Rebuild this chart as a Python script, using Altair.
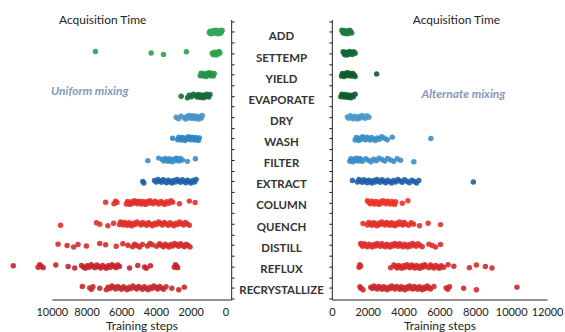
import altair as alt
import pandas as pd

CATS = ["ADD", "SETTEMP", "YIELD", "EVAPORATE", "DRY", "WASH", "FILTER",
        "EXTRACT", "COLUMN", "QUENCH", "DISTILL", "REFLUX", "RECRYSTALLIZE"]

# Uniform mixing (left panel) acquisition steps
U_ADD = [190, 235, 262, 298, 334, 357, 392, 418, 455, 478, 512, 546, 571, 603, 641, 676, 722, 758, 805, 847, 893, 930]
U_SETTEMP = [7490, 4280, 3570, 2250, 760, 705, 640, 590, 530, 470, 425, 370, 320]
U_YIELD = [1450, 1395, 1330, 1275, 1220, 1165, 1110, 1065, 1010, 960, 915, 860, 810, 760, 700, 645]
U_EVAPORATE = [2550, 2190, 2085, 1960, 1850, 1690, 1635, 1570, 1515, 1450, 1395, 1330, 1270, 1215, 1150, 1095, 1030, 960, 890]
U_DRY = [2840, 2700, 2560, 2360, 2295, 2220, 2150, 2085, 2010, 1945, 1870, 1805, 1730, 1665, 1590, 1525, 1450, 1390, 1330]
U_WASH = [3040, 2750, 2685, 2610, 2545, 2470, 2405, 2330, 2265, 2190, 2125, 2050, 1985, 1910, 1845, 1770, 1705, 1630, 1565, 1500]
U_FILTER = [4470, 3840, 3630, 3555, 3470, 3395, 3310, 3235, 3150, 3075, 2990, 2915, 2830, 2755, 2670, 2595, 2480, 2190, 1730]
U_EXTRACT = [4760, 4700, 4090, 3990, 3885, 3790, 3690, 3585, 3480, 3390, 3290, 3185, 3090, 2990, 2885, 2790, 2690, 2585, 2490, 2390, 2285, 2190, 2090, 1985, 1880, 1775, 1690]
U_COLUMN = [6900, 6420, 6330, 6250, 5710, 5640, 5555, 5480, 5390, 5315, 5230, 5150, 5070, 4990, 4915, 4830, 4760, 4680, 4600, 4525, 4440, 4360, 4285, 4170, 4060, 3950, 3845, 3720, 3610, 3500, 3385, 3260, 3140, 3040, 2650, 2080, 1750]
U_QUENCH = [9500, 7430, 7240, 6770, 6440, 6100, 6040, 5960, 5885, 5800, 5720, 5645, 5560, 5480, 5400, 5300, 5200, 5100, 4980, 4870, 4760, 4650, 4540, 4430, 4320, 4200, 4080, 3960, 3850, 3740, 3630, 3520, 3410, 3300, 3190, 3080, 2970, 2860, 2750, 2640, 2530, 2420, 2310, 2200, 2080]
U_DISTILL = [9640, 9120, 8740, 8490, 8010, 7240, 6900, 6290, 5910, 5620, 5350, 5230, 5100, 4950, 4780, 4490, 4350, 4210, 3970, 3800, 3690, 3580, 3470, 3360, 3250, 3140, 3030, 2920, 2810, 2700, 2590, 2480, 2370, 2260, 2150, 2040]
U_REFLUX = [12220, 10790, 10700, 10600, 10500, 9770, 9060, 8680, 8290, 8180, 8070, 7960, 7850, 7740, 7630, 7520, 7410, 7300, 7190, 7080, 6970, 6860, 6750, 6640, 6530, 6420, 6310, 6200, 6100, 5520, 5050, 4660, 4560, 4320, 2940, 2880, 2810, 2750]
U_RECRYSTALLIZE = [8240, 7820, 7720, 7630, 7240, 6860, 6760, 6650, 6540, 6430, 6320, 6210, 6100, 5990, 5880, 5770, 5660, 5550, 5440, 5330, 5220, 5110, 5000, 4890, 4780, 4670, 4560, 4450, 4340, 4230, 4120, 4010, 3900, 3790, 3680, 3570, 3420, 3090, 2690, 2370]

# Alternate mixing (right panel) acquisition steps
A_ADD = [560, 600, 640, 680, 720, 760, 800, 840, 880, 920, 960, 1000, 1050, 1110]
A_SETTEMP = [630, 680, 720, 760, 800, 850, 900, 950, 1000, 1060, 1140, 1220, 1300]
A_YIELD = [540, 590, 640, 690, 740, 790, 840, 890, 940, 990, 1050, 1110, 1170, 1240, 1300, 2500]
A_EVAPORATE = [500, 560, 620, 680, 740, 800, 860, 920, 980, 1050, 1120, 1200, 1300]
A_DRY = [870, 950, 1030, 1110, 1190, 1270, 1350, 1430, 1510, 1590, 1680, 1770, 1860, 1960, 2070]
A_WASH = [1300, 1370, 1440, 1510, 1580, 1650, 1720, 1800, 1880, 1960, 2040, 2130, 2220, 2310, 2420, 2530, 2650, 2780, 2930, 3090, 3370, 5520]
A_FILTER = [1000, 1060, 1120, 1180, 1240, 1300, 1360, 1420, 1490, 1560, 1640, 1700, 1890, 2030, 2180, 2330, 2480, 2630, 2790, 2950, 3110, 3280, 3450, 3640, 3830, 4570]
A_EXTRACT = [1150, 1430, 1520, 1610, 1700, 1790, 1880, 1970, 2060, 2150, 2240, 2330, 2420, 2510, 2600, 2700, 2800, 2900, 3000, 3110, 3220, 3330, 3440, 3560, 3680, 3800, 3920, 4050, 4180, 4320, 4460, 4600, 4720, 4850, 7890]
A_COLUMN = [1980, 2060, 2140, 2220, 2300, 2380, 2460, 2540, 2620, 2700, 2780, 2860, 2940, 3020, 3100, 3180, 3260, 3340, 3420, 3500, 3560, 3930, 4240]
A_QUENCH = [1740, 1980, 2060, 2150, 2240, 2330, 2420, 2510, 2600, 2690, 2780, 2870, 2960, 3050, 3140, 3230, 3320, 3410, 3500, 3590, 3680, 3770, 3860, 3950, 4030, 4110, 4280, 4420, 4560, 4890, 5370, 6060]
A_DISTILL = [1610, 1650, 1720, 1800, 1890, 1980, 2070, 2160, 2250, 2340, 2430, 2520, 2610, 2700, 2790, 2880, 2970, 3060, 3150, 3240, 3330, 3420, 3510, 3600, 3690, 3780, 3870, 3960, 4050, 4140, 4230, 4320, 4410, 4500, 4600, 4700, 4800, 4920, 5040, 5410, 5600, 5780, 6060]
A_REFLUX = [1520, 1560, 1600, 3280, 3460, 3550, 3640, 3730, 3820, 3910, 4000, 4090, 4180, 4270, 4360, 4450, 4540, 4630, 4720, 4810, 4900, 4990, 5080, 5170, 5220, 5410, 5500, 5600, 5700, 5800, 5900, 6000, 6100, 6240, 6480, 6800, 7670, 8060, 8560, 8930]
A_RECRYSTALLIZE = [1570, 1620, 1740, 2170, 2260, 2350, 2440, 2530, 2620, 2710, 2800, 2890, 2980, 3070, 3160, 3250, 3340, 3430, 3520, 3610, 3700, 3790, 3880, 3970, 4060, 4150, 4240, 4330, 4420, 4510, 4600, 4690, 4780, 4870, 4960, 5050, 5140, 5230, 5320, 5410, 5500, 5690, 6370, 6460, 6560, 7350, 8060, 10320]

LEFT_COLORS = ["#36a556", "#2f9f4f", "#23934a", "#146b35",
               "#4a94c9", "#2f85c4", "#3b8dc8", "#1f5fa8",
               "#e3302a", "#df302b", "#d42b2b", "#c8232b", "#c52a2c"]
RIGHT_COLORS = ["#1c7a3e", "#116633", "#0e5c2c", "#0e5c2c",
                "#4b97cc", "#3a8ec8", "#3a8ec8", "#1f5ea8",
                "#ee3327", "#e3302a", "#df2f2b", "#d42a2b", "#cc2a2c"]

U_SERIES = [U_ADD, U_SETTEMP, U_YIELD, U_EVAPORATE, U_DRY, U_WASH, U_FILTER,
            U_EXTRACT, U_COLUMN, U_QUENCH, U_DISTILL, U_REFLUX, U_RECRYSTALLIZE]
A_SERIES = [A_ADD, A_SETTEMP, A_YIELD, A_EVAPORATE, A_DRY, A_WASH, A_FILTER,
            A_EXTRACT, A_COLUMN, A_QUENCH, A_DISTILL, A_REFLUX, A_RECRYSTALLIZE]


def build(series):
    rows = []
    k = 0
    for i, (cat, vals) in enumerate(zip(CATS, series)):
        for v in vals:
            rows.append({"cat": cat, "idx": i, "steps": v, "k": k})
            k += 1
    return pd.DataFrame(rows)


df_u = build(U_SERIES)
df_a = build(A_SERIES)
df_lab = pd.DataFrame({"cat": CATS, "idx": list(range(len(CATS)))})

FONT = "Lato"
TXT = "#222222"
NOTE = "#8797c0"
H = 281
Y_DOMAIN = [-0.584, 12.547]
TICKS = [k * 0.5 for k in range(-1, 26)]

jitter = "datum.idx + (((datum.k * 37) % 11) / 10 - 0.5) * 0.17"


def panel(df, colors, x_scale, x_values, width, orient):
    pts = alt.Chart(df).transform_calculate(yj=jitter).mark_circle(
        size=30, opacity=0.9
    ).encode(
        x=alt.X("steps:Q", scale=x_scale,
                axis=alt.Axis(values=x_values, format="d", title="Training steps", ticks=False,
                              labelPadding=7, titlePadding=3, grid=False,
                              labelFlush=False)),
        y=alt.Y("yj:Q", scale=alt.Scale(domain=Y_DOMAIN, reverse=True, nice=False, zero=False),
                axis=alt.Axis(orient=orient, labels=False, title=None, values=TICKS,
                              tickSize=3, grid=False)),
        color=alt.Color("cat:N", scale=alt.Scale(domain=CATS, range=colors), legend=None),
    )
    return pts.properties(width=width, height=H)


def note(text, x, y, **kw):
    return alt.Chart(pd.DataFrame({"t": [text]})).mark_text(
        font=FONT, baseline="middle", align="center", **kw
    ).encode(text="t:N", x=alt.value(x), y=alt.value(y))


left = alt.layer(
    panel(df_u, LEFT_COLORS, alt.Scale(domain=[-330, 10000], reverse=True, nice=False, zero=False),
          [0, 2000, 4000, 6000, 8000, 10000], 180, "right"),
    note("Acquisition Time", 51, 0, fontSize=12, color=TXT),
    note("Uniform mixing", 38, 72, fontSize=12, color=NOTE, fontWeight="bold", fontStyle="italic"),
)

right = alt.layer(
    panel(df_a, RIGHT_COLORS, alt.Scale(domain=[0, 12000], nice=False),
          [0, 2000, 4000, 6000, 8000, 10000, 12000], 216, "left"),
    note("Acquisition Time", 125, 0, fontSize=12, color=TXT),
    note("Alternate mixing", 132, 75, fontSize=12, color=NOTE, fontWeight="bold", fontStyle="italic"),
)

middle = alt.Chart(df_lab).mark_text(
    font=FONT, fontWeight="bold", fontSize=11.5, color="#333333", align="center", baseline="middle"
).encode(
    x=alt.value(46.5),
    y=alt.Y("idx:Q", scale=alt.Scale(domain=[-0.849, 12.406], reverse=True, nice=False, zero=False),
            axis=None),
    text="cat:N",
).properties(width=93, height=H)

chart = alt.hconcat(left, middle, right, spacing=0).resolve_scale(
    x="independent", y="independent", color="independent"
).properties(
    padding={"left": 10, "top": 13, "right": 2, "bottom": 0}
).configure_view(strokeWidth=0).configure_axis(
    labelFont=FONT, titleFont=FONT, labelFontSize=11, titleFontSize=12,
    labelColor=TXT, titleColor=TXT, titleFontWeight="normal",
    domainColor="#222222", tickColor="#222222", domainWidth=1,
)

chart.save("out.html", embed_options={"renderer": "svg", "actions": False})
